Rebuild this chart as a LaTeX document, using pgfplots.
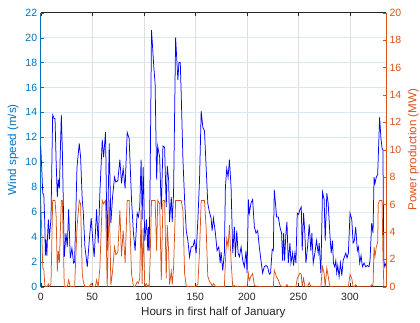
\documentclass[border=0pt]{standalone}
\usepackage{fontspec}
\setmainfont{Liberation Sans}
\usepackage{pgfplots}
\pgfplotsset{compat=1.18}
\usepackage{pgfplotstable}
\definecolor{leftc}{rgb}{0,0.447,0.741}
\definecolor{rightc}{rgb}{0.85,0.325,0.098}
\definecolor{boxc}{rgb}{0.15,0.15,0.15}
\definecolor{hgrid}{RGB}{217,234,245}
\definecolor{vgrid}{RGB}{223,223,223}
\pgfplotstableread{
h w p
0 11.3 6.3
1 9.5 4.10
2 7.5 1.36
3 7.4 1.27
4 5.0 0.12
4.5 2.5 0
5 3.8 0.01
6 2.5 0
6.5 3.8 0.01
7.4 5.4 0.21
8.5 3.8 0.01
9 4.5 0.05
10 5.5 0.23
11.6 13.8 6.3
13 13.5 6.3
13.9 13.5 6.3
15 10.0 5.12
16.1 7.2 1.11
17.1 8.6 2.62
18.1 7.9 1.76
20 13.8 6.3
21 11.0 6.3
22.9 2.4 0
24.5 4.3 0.03
25.8 3.2 0
27.1 6.2 0.49
28.7 2.3 0
30.3 3.1 0
31.9 1.9 0
32.9 2.0 0
35.2 9.6 4.29
37.4 11.5 6.3
38.7 10.4 6.05
40.3 7.0 0.96
41.3 6.0 0.40
42.9 3.2 0
45.2 1.6 0
47.1 3.7 0.01
49 5.5 0.23
51 3.2 0
51.9 2.4 0
53.2 4.5 0.05
54.2 6.2 0.49
55.8 3.5 0
57.4 7.5 1.36
59.7 11.8 6.3
61 10.4 6.05
62.9 12.4 6.3
64.5 2.9 0
66.5 11.5 6.3
68.1 5.1 0.14
69.7 7.2 1.11
71.6 8.8 2.91
72.9 8.4 2.35
74.8 8.5 2.49
76.8 10.2 5.57
78.4 8.3 2.22
80 9.5 4.10
81.9 7.9 1.76
83.9 12.4 6.3
85.8 11.9 6.3
88.1 7.0 0.96
90 4.3 0.03
91.6 2.9 0
93.6 5.9 0.36
94.8 5.6 0.26
96.1 6.4 0.59
97.4 10.2 5.57
98.4 5.4 0.21
99.4 9.6 4.29
101 3.7 0.01
102.6 5.4 0.21
103.9 2.9 0
104.5 4.8 0.09
105.2 2.9 0
106.1 8.0 1.87
107.5 20.6 6.3
109.7 17.7 6.3
111 16.3 6.3
112.5 8.6 2.62
113.5 11.3 6.3
115.4 10.4 6.05
117 6.2 0.49
118.6 11.3 6.3
120.2 11.2 6.3
121.8 6.4 0.59
122.8 9.7 4.49
124.1 8.6 2.62
125 5.2 0.16
126.7 7.2 1.11
127.6 5.2 0.16
128.9 7.5 1.36
130.9 20.0 6.3
133.1 16.6 6.3
134.1 18.0 6.3
135.4 18.0 6.3
136.3 15.5 6.3
138 10.2 5.57
139.6 7.0 0.96
141.2 4.5 0.05
142.8 3.7 0.01
144.4 2.4 0
146 3.2 0
147.6 3.2 0
149.2 3.7 0.01
150.8 2.7 0
152.5 5.4 0.21
154.1 8.6 2.62
155.7 14.1 6.3
157.3 12.8 6.3
158.9 12.5 6.3
160.5 9.6 4.29
162.1 6.7 0.76
163.7 6.0 0.40
165.3 5.5 0.23
166.3 4.5 0.05
167.6 5.5 0.23
169.5 4.3 0.03
171.1 2.9 0
172.8 3.2 0
174.1 1.9 0
175 2.8 0
176.6 1.3 0
178.2 2.7 0
179.2 8.0 1.87
180.5 9.5 3.5
181.8 8.8 2.91
183.1 10.2 4.5
184.7 8.0 1.87
186.3 2.7 0
187.9 4.8 0.09
188.9 2.4 0
190.2 4.5 0.05
191.5 2.7 0
192.8 2.4 0
194.4 3.2 0
196 2.1 0
197.6 1.6 0
199.2 2.9 0
200.2 1.1 0
201.5 7.0 0.96
202.4 5.9 0.45
204 6.7 0.76
205.6 7.0 0.96
207.3 4.8 0.09
208.9 4.3 0.03
210.5 4.5 0.05
212.1 3.2 0
213.7 2.1 0
215.3 1.1 0
216.9 1.6 0
218.5 1.7 0
220.1 1.6 0
221.8 1.0 0
223 1.1 0
224.6 3.0 0
225.7 2.9 0
226.6 7.8 1.2
228.9 5.6 0.7
230.5 5.6 0.5
232.1 4.8 0.15
233.7 4.3 0.03
234.7 2.1 0
235.7 4.3 0.03
236.6 2.1 0
237.9 4.3 0.03
238.9 5.2 0.16
240.2 1.9 0
241.8 3.5 0
242.8 1.9 0
244.4 2.7 0
245.3 1.7 0
246.6 2.7 0
247.6 1.9 0
248.9 5.9 0.6
250.2 5.8 0.8
251.5 6.2 1.0
252.8 6.4 0.9
253.7 2.9 0
255 5.9 0.6
256.3 4.3 0.05
257.3 1.9 0
258.9 3.2 0
260.5 5.0 0.3
262.1 2.9 0
263.1 4.3 0.05
264.4 1.9 0
266 2.7 0
267.6 3.7 0.01
269.2 2.7 0
270.2 3.5 0
271.8 1.1 0
273.4 7.6 1.45
275 7.0 0.96
276 3.7 0.01
277.6 7.5 1.36
278.9 6.7 0.76
280.5 4.3 0.03
281.8 2.7 0
283.1 3.7 0.01
284 1.9 0
285.3 1.6 0
286.3 2.1 0
287.2 1.1 0
288.2 1.7 0
289.5 0.8 0
290.8 1.9 0
292.1 0.9 0
293.4 2.1 0
294.7 2.4 0
296 2.7 0
297.2 2.3 0
298.5 2.7 0
300.1 5.9 0.9
301.8 5.4 0.6
303.1 3.5 0
304.3 3.7 0.01
305.6 4.8 0.15
307.2 2.9 0
308.2 3.2 0
309.5 1.9 0
310.8 2.5 0
312.1 1.6 0
313.7 1.9 0
315.3 1.6 0
316.9 1.7 0
318.5 1.6 0
319.5 2.1 0
321.1 5.1 0.14
322.4 4.3 0.03
323.4 8.8 2.91
324.3 8.3 2.22
325.6 8.8 2.91
326.9 9.0 3.23
327.5 10.4 6.05
328.8 13.6 6.3
330.1 11.9 6.3
331.2 11.1 6.3
332.0 11.0 2.4
332.9 2.1 0
333.8 1.6 0
335 1.9 0
}\data
\pgfplotsset{common/.style={
  scale only axis, width=345.3pt, height=274pt,
  xmin=0, xmax=335,
  tick align=inside, major tick length=3.5pt,
  /pgf/number format/assume math mode=true,
  ticklabel style={font=\fontsize{10.5}{12}\selectfont},
}}
\begin{document}
\begin{tikzpicture}
\begin{axis}[common,
  ymin=0, ymax=22, ytick={0,2,...,22},
  xtick={0,50,...,300},
  xticklabel shift=3pt,
  axis x line=box, axis y line*=left,
  x axis line style={boxc,-,line width=0.6pt},
  y axis line style={leftc,-,line width=0.6pt},
  x tick style={boxc}, y tick style={leftc},
  xticklabel style={boxc}, yticklabel style={leftc},
  xmajorgrids, ymajorgrids,
  major x grid style={vgrid, line width=0.5pt},
  major y grid style={hgrid, line width=0.5pt},
  xlabel={Hours in first half of January},
  ylabel={Wind speed (m/s)},
  xlabel style={boxc, font=\fontsize{11.6}{13}\selectfont},
  ylabel style={leftc, font=\fontsize{11.6}{13}\selectfont},
]
\addplot[blue, line width=0.75pt] table[x=h,y=w] {\data};
\end{axis}
\begin{axis}[common,
  ymin=0, ymax=20, ytick={0,2,...,20},
  axis x line=none, axis y line*=right,
  y axis line style={rightc,-,line width=0.6pt},
  y tick style={rightc}, yticklabel style={rightc},
  ylabel={Power production (MW)},
  ylabel style={rightc, font=\fontsize{11.6}{13}\selectfont},
]
\addplot[rightc, line width=0.75pt] table[x=h,y=p] {\data};
\end{axis}
\pgfresetboundingbox
\path ([shift={(-40.7pt,-35.3pt)}]current axis.south west) rectangle ([shift={(34pt,12.7pt)}]current axis.north east);
\end{tikzpicture}
\end{document}
